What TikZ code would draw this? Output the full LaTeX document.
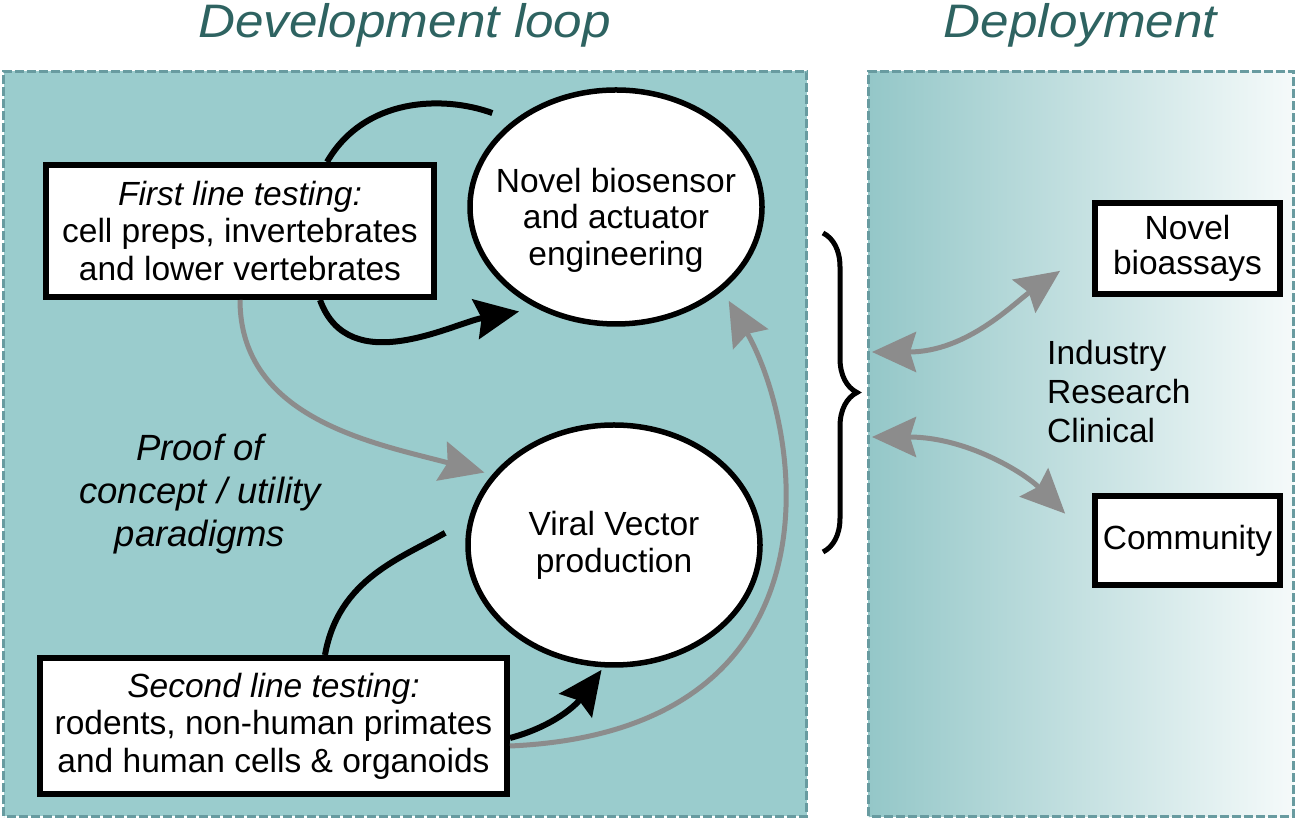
\documentclass[tikz,border=0pt]{standalone}
\usepackage{fontspec}
\setmainfont{Liberation Sans}
\usetikzlibrary{positioning}
\usetikzlibrary{shapes.geometric, arrows.meta, decorations.pathreplacing}

\definecolor{panelteal}{RGB}{154,204,205}
\definecolor{fadeteal}{RGB}{148,199,200}
\definecolor{fadewhite}{RGB}{245,250,250}
\definecolor{titleteal}{RGB}{46,99,97}
\definecolor{dashteal}{RGB}{104,155,160}
\definecolor{arrowgray}{RGB}{140,140,140}

\begin{document}
\begin{tikzpicture}[x=1pt,y=1pt,
    panel/.style={draw=dashteal,line width=3pt,dash pattern=on 9pt off 3pt},
    heading/.style={font=\fontsize{47}{50}\selectfont\itshape,text=titleteal,anchor=base,xscale=1.09,transform shape},
    stage/.style={draw,fill=white,line width=6pt,inner sep=0pt,align=center,font=\fontsize{33.5}{37.5}\selectfont},
    vessel/.style={ellipse,draw,fill=white,line width=5.5pt,minimum width=292pt,inner sep=0pt,align=center,font=\fontsize{33.5}{37}\selectfont},
    loopline/.style={line width=6pt},
    looparrow/.style={line width=6pt,-{Stealth[length=44pt 0 0,width=40pt 0 0,inset=6pt]}},
    greyarrow/.style={draw=arrowgray,line width=5pt,-{Stealth[length=44pt 0 0,width=40pt 0 0,inset=6pt]}},
    greyboth/.style={draw=arrowgray,line width=5pt,{Stealth[length=44pt 0 0,width=40pt 0 0,inset=6pt]}-{Stealth[length=44pt 0 0,width=40pt 0 0,inset=6pt]}}
]
\useasboundingbox (0,0) rectangle (1300,821);

% panels and titles
\draw[panel,fill=panelteal] (3.5,4.5) rectangle (806.5,749.5);
\draw[panel,left color=fadeteal,right color=fadewhite] (868.5,4.5) rectangle (1293.5,749.5);
\node[heading] (devtitle) at (404.5,783) {Development loop};
\node[heading] (deptitle) at (1080.5,783) {Deployment};

% development loop
\node[stage,minimum width=388pt,minimum height=132pt] (first) at (240,590) {{\itshape First line testing:}\\cell preps, invertebrates\\and lower vertebrates};
\node[stage,minimum width=467pt,minimum height=136pt] (second) at (273.5,95) {{\itshape Second line testing:}\\rodents, non-human primates\\and human cells \& organoids};
\node[vessel,minimum height=234pt] (novel) at (616,614) {};
\node[font=\fontsize{33.5}{36.5}\selectfont,align=center,inner sep=0pt] (noveltext) at (616,601) {Novel biosensor\\and actuator\\engineering};
\node[vessel,minimum height=240pt] (viral) at (614,276) {Viral Vector\\production};
\node[font=\fontsize{36.5}{43}\selectfont\itshape,align=center,inner sep=0pt] (proof) at (200,327) {Proof of\\concept / utility\\paradigms};

\draw[loopline,shorten >=22pt] ([xshift=87pt]first.north) to[out=60,in=160] (novel.140);
\draw[looparrow,shorten >=18pt] ([xshift=80pt]first.south) to[out=-70,in=190] (novel.232);
\draw[loopline,shorten >=27pt] ([xshift=51.5pt]second.north) to[out=80,in=210] (viral.170);
\draw[looparrow,shorten >=3pt] ([yshift=-12pt]second.east) to[out=15,in=234] (viral.265);
\draw[greyarrow,shorten >=8pt] (first.south) to[out=-90,in=165] (viral.150);
\draw[greyarrow,shorten >=12pt] ([yshift=-20pt]second.east) .. controls +(340,15) and +(80,-140) .. (novel.-38);

% deployment
\draw[decorate,decoration={brace,amplitude=34pt},line width=5pt] (823,588) -- (823,269);
\node[stage,minimum width=185pt,minimum height=91pt,font=\fontsize{33.5}{35}\selectfont] (bioassays) at (1187.5,572.5) {Novel\\bioassays};
\node[stage,minimum width=185pt,minimum height=89pt] (community) at (1187.5,280.5) {Community};
\node[font=\fontsize{33.5}{39}\selectfont,align=left,inner sep=0pt,anchor=west] (sectors) at (1047,429) {Industry\\Research\\Clinical};
\coordinate (depup) at (872,469);
\coordinate (depdown) at (872,384);
\draw[greyboth,shorten >=39pt] (depup) to[out=0,in=215] (bioassays.west);
\draw[greyboth,shorten >=38pt] (depdown) to[out=0,in=135] (community.west);

\end{tikzpicture}
\end{document}
